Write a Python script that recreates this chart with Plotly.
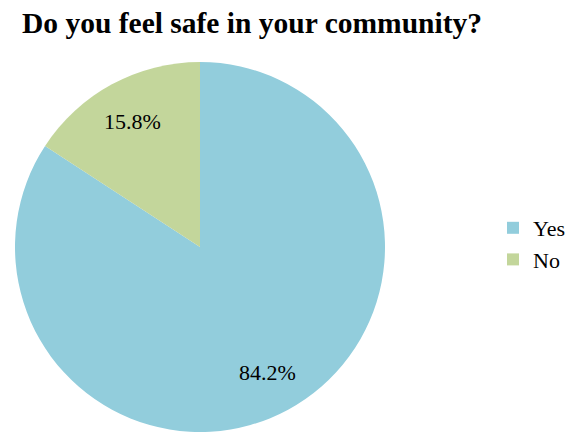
import math
import plotly.graph_objects as go

labels = ["Yes", "No"]
values = [84.2, 15.8]
colors = ["#92CDDC", "#C3D69B"]
title_text = "Do you feel safe in your community?"

# page body has an 8px margin, so the figure is 8px smaller than the window
W, H = 569, 427
dom_x = [6 / W, 378 / W]
dom_y = [3 / H, 373 / H]

fig = go.Figure(go.Pie(
    labels=labels,
    values=values,
    marker=dict(colors=colors, line=dict(width=0)),
    sort=False,
    direction="clockwise",
    rotation=0,
    textinfo="none",
    domain=dict(x=dom_x, y=dom_y),
    hoverinfo="label+percent",
))

# percentage labels placed at the middle angle of each slice
cx = (dom_x[0] + dom_x[1]) / 2 * W
cy = (dom_y[0] + dom_y[1]) / 2 * H
R = min((dom_x[1] - dom_x[0]) * W, (dom_y[1] - dom_y[0]) * H) / 2
total = sum(values)
start = 0.0
for v in values:
    mid = (start + v / 2) / total * 2 * math.pi
    start += v
    rr = 0.77 * R
    px = cx + rr * math.sin(mid)
    py = cy + rr * math.cos(mid)
    fig.add_annotation(
        x=px / W, y=py / H, xref="paper", yref="paper",
        xanchor="center", yanchor="middle",
        text=f"{v / total * 100:.1f}%", showarrow=False,
        font=dict(family="Liberation Serif, Times New Roman, serif", size=22, color="black"),
    )

fig.update_layout(
    width=W, height=H,
    margin=dict(l=0, r=0, t=0, b=0),
    paper_bgcolor="white",
    plot_bgcolor="white",
    title=dict(text="<b>" + title_text + "</b>", x=14 / W, xanchor="left",
               y=1 - 15 / H, yanchor="middle",
               font=dict(family="Liberation Serif, Times New Roman, serif", size=29.5, color="black")),
    legend=dict(x=485 / W, y=1 - 236 / H, xanchor="left", yanchor="middle",
                font=dict(family="Liberation Serif, Times New Roman, serif", size=22, color="black"),
                itemwidth=30),
    showlegend=True,
)

fig.write_html("out.html")
